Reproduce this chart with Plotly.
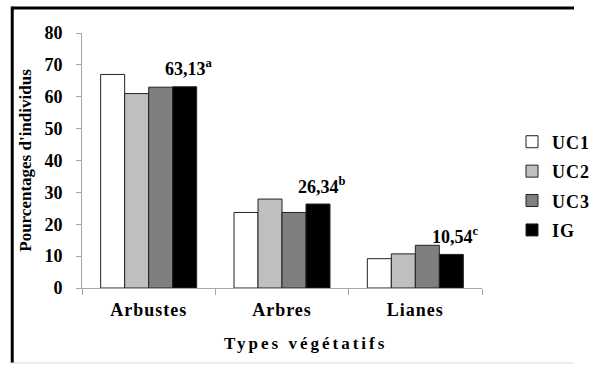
import plotly.graph_objects as go

categories = ["Arbustes", "Arbres", "Lianes"]
series_names = ["UC1", "UC2", "UC3", "IG"]
uc1 = [67.0, 23.7, 9.2]
uc2 = [61.0, 27.9, 10.7]
uc3 = [63.0, 23.7, 13.4]
ig = [63.13, 26.34, 10.54]
ig_labels = ["63,13<sup>a</sup>", "26,34<sup>b</sup>", "10,54<sup>c</sup>"]
y_ticks = [0, 10, 20, 30, 40, 50, 60, 70, 80]

colors = ["#ffffff", "#bfbfbf", "#7f7f7f", "#000000"]
FONT = "Liberation Serif"

fig = go.Figure()
for name, vals, col in zip(series_names, [uc1, uc2, uc3, ig], colors):
    fig.add_trace(go.Bar(
        name=name, x=categories, y=vals, legendgroup=name,
        marker=dict(color=col, line=dict(color="#222222", width=1)),
    ))

for cat, val, lab in zip(categories, ig, ig_labels):
    fig.add_annotation(x=cat, y=val, text=lab, showarrow=False,
                       xshift=40, yshift=19, yanchor="middle",
                       font=dict(family=FONT, size=18, color="black", weight="bold"))

# x-axis title as annotation
fig.add_annotation(xref="paper", yref="paper", x=0.56, y=-0.216, text="Types végétatifs",
                   showarrow=False, yanchor="middle",
                   font=dict(family=FONT, size=17, color="black", weight="bold"))

# frame lines (top, left black; bottom light grey)
fig.add_shape(type="line", xref="paper", yref="paper", x0=-0.1744, x1=1.23, y0=1.098, y1=1.098,
              line=dict(color="black", width=3))
fig.add_shape(type="line", xref="paper", yref="paper", x0=-0.1744, x1=-0.1744, y0=1.104, y1=-0.294,
              line=dict(color="black", width=3))
fig.add_shape(type="line", xref="paper", yref="paper", x0=-0.18, x1=1.23, y0=-0.294, y1=-0.294,
              line=dict(color="#d9d9d9", width=1))

fig.update_layout(
    width=607, height=365,
    margin=dict(l=82, r=95, t=33, b=77),
    paper_bgcolor="white", plot_bgcolor="white",
    barmode="group", bargap=0.28, bargroupgap=0,
    font=dict(family=FONT, color="black"),
    showlegend=True,
    legend=dict(x=1.075, y=0.645, xanchor="left", yanchor="top",
                font=dict(family=FONT, size=18, color="black", weight="bold"),
                tracegroupgap=3, bgcolor="rgba(0,0,0,0)"),
    xaxis=dict(showline=True, linecolor="#a6a6a6", linewidth=1,
               ticks="outside", tickson="boundaries", ticklen=6, tickcolor="#a6a6a6",
               ticklabelstandoff=5,
               tickfont=dict(family=FONT, size=18, color="black", weight="bold"),
               showgrid=False),
    yaxis=dict(range=[0, 80], tickvals=y_ticks, showline=True, linecolor="#a6a6a6", linewidth=1,
               ticks="outside", ticklen=5, tickcolor="#a6a6a6", showgrid=False, zeroline=False,
               ticklabelstandoff=10,
               tickfont=dict(family=FONT, size=18, color="black", weight="bold"),
               title=dict(text="Pourcentages d'individus", standoff=8,
                          font=dict(family=FONT, size=17, color="black", weight="bold"))),
)

fig.write_html("out.html", config={"displayModeBar": False})
css = ("<style>html,body{margin:0;padding:0;overflow:hidden}"
       ".xtick text{letter-spacing:1px}"
       ".legendtext{letter-spacing:1px}"
       "g.annotation[data-index='3'] text{letter-spacing:3px}"
       "</style>")
with open("out.html", "r", encoding="utf-8") as f:
    html = f.read()
html = html.replace("<head>", "<head>" + css, 1)
with open("out.html", "w", encoding="utf-8") as f:
    f.write(html)
